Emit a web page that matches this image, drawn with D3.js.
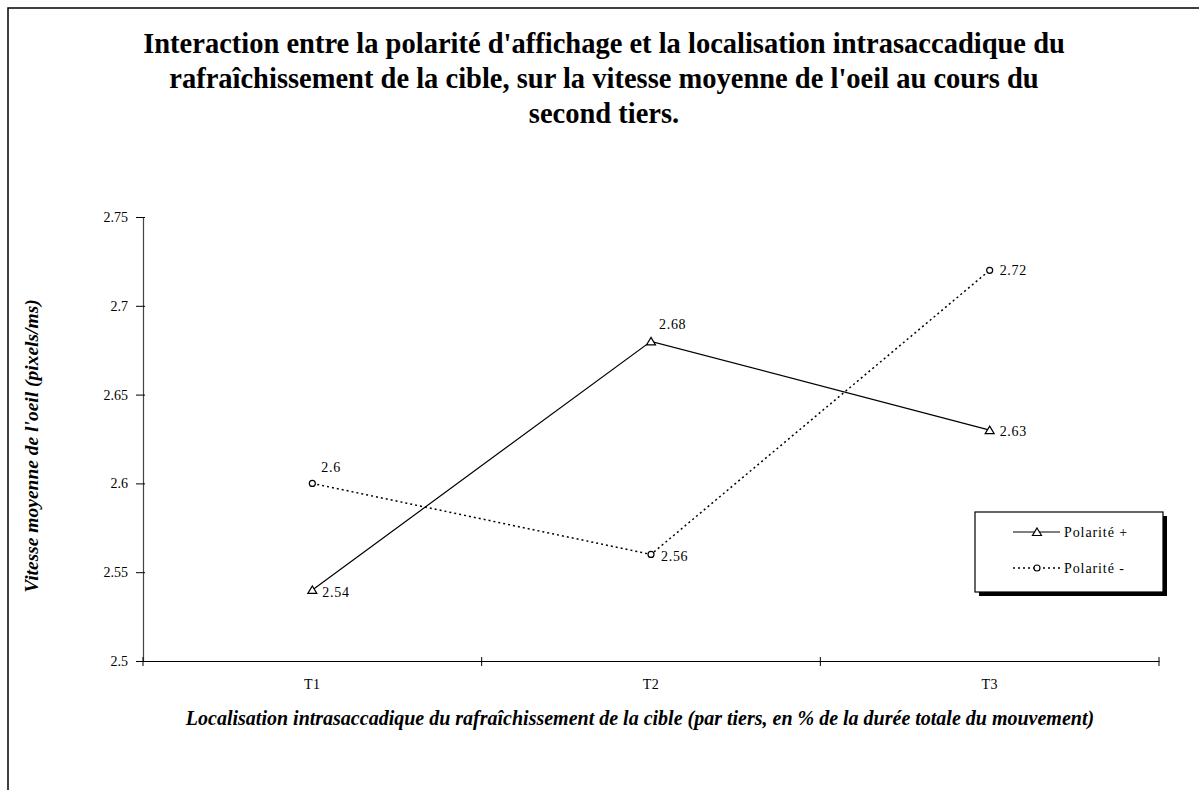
<!DOCTYPE html>
<html><head><meta charset="utf-8">
<script src="https://cdn.jsdelivr.net/npm/d3@7/dist/d3.min.js"></script>
<style>body{margin:0;background:#fff}svg{display:block}text{font-family:"Liberation Serif","Times New Roman",serif}</style>
</head><body><svg id="c" width="1199" height="790"></svg>
<script>
const categories = ["T1","T2","T3"];
const polPlus = [2.54, 2.68, 2.63];
const polMinus = [2.60, 2.56, 2.72];
const yTicks = [2.5, 2.55, 2.6, 2.65, 2.7, 2.75];
const seriesNames = ["Polarité +", "Polarité -"];
const titleLines = ["Interaction entre la polarité d'affichage et la localisation intrasaccadique du",
  "rafraîchissement de la cible, sur la vitesse moyenne de l'oeil au cours du",
  "second tiers."];
const xTitle = "Localisation intrasaccadique du rafraîchissement de la cible (par tiers, en % de la durée totale du mouvement)";
const yTitle = "Vitesse moyenne de l'oeil (pixels/ms)";

const svg = d3.select("#c");
svg.append("rect").attr("x",8).attr("y",8).attr("width",1300).attr("height",900)
  .attr("fill","none").attr("stroke","#000").attr("stroke-width",1.5);

const L=143, R=1159, T=217, B=661;
const x = d3.scaleBand().domain(categories).range([L,R]);
const y = d3.scaleLinear().domain([2.5,2.75]).range([B,T]);
const cx = d => x(d)+x.bandwidth()/2;

// title
svg.append("text").attr("text-anchor","middle").attr("font-weight","bold").attr("font-size",28.5)
  .selectAll("tspan").data(titleLines).join("tspan")
  .attr("x",604).attr("y",(d,i)=>53+i*35).text(d=>d);

// y axis
const ya = svg.append("g").attr("transform",`translate(${L},0)`)
  .call(d3.axisLeft(y).tickValues(yTicks).tickSize(5).tickFormat(d=>d3.format("")(+d.toFixed(2))));
ya.select(".domain").attr("stroke","#444").attr("stroke-width",1.2);
ya.selectAll(".tick line").attr("stroke","#000").attr("x2",2).attr("x1",-7);
ya.selectAll(".tick text").attr("font-size",14).attr("fill","#000").attr("x",-15);

// x axis
const xa = svg.append("g").attr("transform",`translate(0,${B})`)
  .call(d3.axisBottom(x).tickSize(0).tickPadding(18));
xa.select(".domain").attr("stroke","#000").attr("stroke-width",1.2);
xa.selectAll(".tick text").attr("font-size",14).attr("fill","#000").attr("letter-spacing",0.5);
const bounds = [L, ...categories.map(c=>x(c)+x.bandwidth())];
xa.selectAll(".bt").data(bounds).join("line").attr("x1",d=>d).attr("x2",d=>d)
  .attr("y1",-4).attr("y2",5).attr("stroke","#000");

// axis titles
svg.append("text").attr("x",640).attr("y",725).attr("text-anchor","middle")
  .attr("font-weight","bold").attr("font-style","italic").attr("font-size",20).text(xTitle);
svg.append("text").attr("transform","translate(38,446) rotate(-90)").attr("text-anchor","middle")
  .attr("font-weight","bold").attr("font-style","italic").attr("font-size",19.5).text(yTitle);

const line = d3.line().x((d,i)=>cx(categories[i])).y(d=>y(d));
svg.append("path").datum(polPlus).attr("d",line).attr("fill","none").attr("stroke","#000").attr("stroke-width",1.2);
svg.append("path").datum(polMinus).attr("d",line).attr("fill","none").attr("stroke","#000")
  .attr("stroke-width",1.5).attr("stroke-dasharray","2,3");

function triangle(g, px, py){
  g.append("path").attr("d","M0,-4L4.5,3.5L-4.5,3.5Z").attr("transform",`translate(${px},${py})`)
   .attr("fill","#fff").attr("stroke","#000").attr("stroke-width",1.2);
}
function circle(g, px, py){
  g.append("circle").attr("cx",px).attr("cy",py).attr("r",3).attr("fill","#fff").attr("stroke","#000").attr("stroke-width",1.2);
}
polPlus.forEach((v,i)=>triangle(svg, cx(categories[i]), y(v)));
polMinus.forEach((v,i)=>circle(svg, cx(categories[i]), y(v)));

// data labels
const plusOff = [[10,7],[8,-12],[10,6]];
const minusOff = [[9,-11],[10,7],[10,5]];
const fmt = v => d3.format("")(+v.toFixed(2));
svg.append("g").selectAll("text").data(polPlus).join("text")
  .attr("x",(d,i)=>cx(categories[i])+plusOff[i][0]).attr("y",(d,i)=>y(d)+plusOff[i][1])
  .attr("font-size",14).attr("letter-spacing",0.7).text(fmt);
svg.append("g").selectAll("text").data(polMinus).join("text")
  .attr("x",(d,i)=>cx(categories[i])+minusOff[i][0]).attr("y",(d,i)=>y(d)+minusOff[i][1])
  .attr("font-size",14).attr("letter-spacing",0.7).text(fmt);

// legend
const lg = svg.append("g");
lg.append("rect").attr("x",979).attr("y",516).attr("width",188).attr("height",80).attr("fill","#000");
lg.append("rect").attr("x",975).attr("y",512).attr("width",188).attr("height",80).attr("fill","#fff").attr("stroke","#000").attr("stroke-width",1.2);
lg.append("line").attr("x1",1013).attr("x2",1060).attr("y1",532).attr("y2",532).attr("stroke","#000").attr("stroke-width",1.2);
triangle(lg, 1037, 532);
lg.append("text").attr("x",1064).attr("y",537).attr("font-size",14).attr("letter-spacing",0.9).text(seriesNames[0]);
lg.append("line").attr("x1",1013).attr("x2",1060).attr("y1",568).attr("y2",568).attr("stroke","#000").attr("stroke-width",1.5).attr("stroke-dasharray","2,3");
circle(lg, 1037, 568);
lg.append("text").attr("x",1064).attr("y",573).attr("font-size",14).attr("letter-spacing",0.9).text(seriesNames[1]);
</script></body></html>
